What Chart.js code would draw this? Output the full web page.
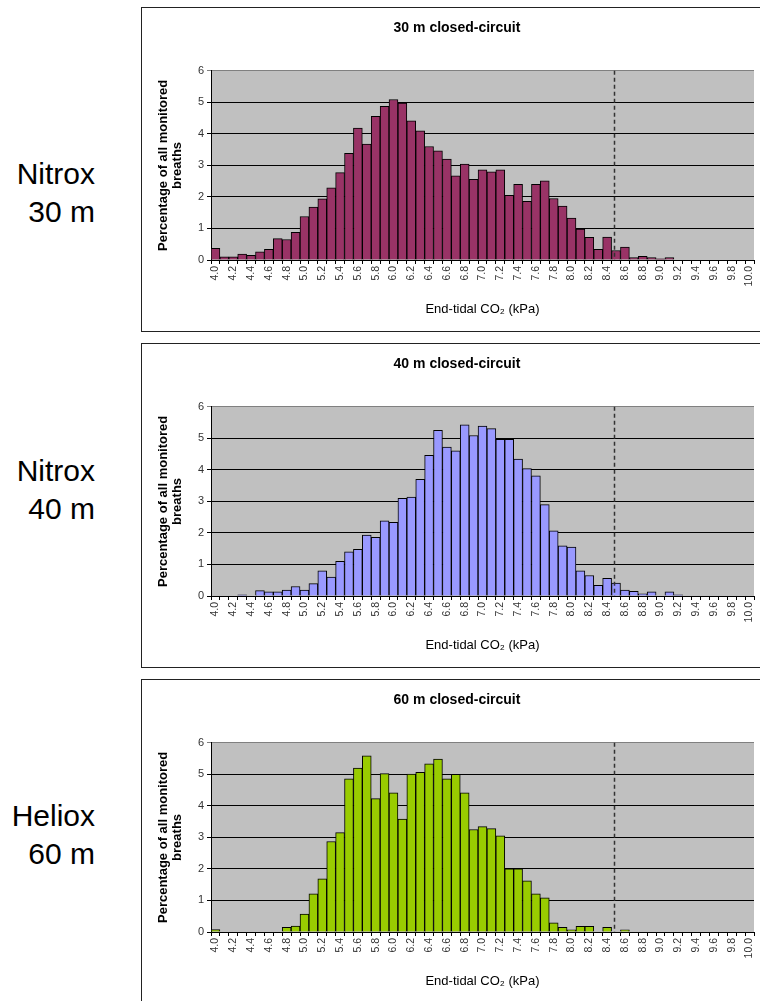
<!DOCTYPE html>
<html>
<head>
<meta charset="utf-8">
<script src="https://cdn.jsdelivr.net/npm/chart.js@4.4.1/dist/chart.umd.min.js"></script>
<style>
    html, body { margin: 0; padding: 0; background: #fff; }
    body { width: 760px; height: 1001px; overflow: hidden; position: relative; }
    .panel { position: absolute; left: 141px; width: 630px; height: 323px; border: 1px solid #222; background: #fff; }
    .panel canvas { display: block; }
    .side-label { position: absolute; left: 0; width: 95px; text-align: right; font-family: "Liberation Sans", Arial, sans-serif; font-size: 30px; line-height: 38px; color: #000; }
</style>
</head>
<body>
<div class="side-label" style="top:155px">Nitrox<br>30 m</div>
<div class="side-label" style="top:452px">Nitrox<br>40 m</div>
<div class="side-label" style="top:797px">Heliox<br>60 m</div>

<div class="panel" style="top:7px"><canvas id="chart30" width="630" height="323"></canvas></div>
<div class="panel" style="top:343px"><canvas id="chart40" width="630" height="323"></canvas></div>
<div class="panel" style="top:679px"><canvas id="chart60" width="630" height="323"></canvas></div>

<script>
// End-tidal CO2 bins (kPa)
const categories = [
    '4.0', '4.1', '4.2', '4.3', '4.4', '4.5', '4.6', '4.7', '4.8', '4.9',
    '5.0', '5.1', '5.2', '5.3', '5.4', '5.5', '5.6', '5.7', '5.8', '5.9',
    '6.0', '6.1', '6.2', '6.3', '6.4', '6.5', '6.6', '6.7', '6.8', '6.9',
    '7.0', '7.1', '7.2', '7.3', '7.4', '7.5', '7.6', '7.7', '7.8', '7.9',
    '8.0', '8.1', '8.2', '8.3', '8.4', '8.5', '8.6', '8.7', '8.8', '8.9',
    '9.0', '9.1', '9.2', '9.3', '9.4', '9.5', '9.6', '9.7', '9.8', '9.9',
    '10.0'
];

// Percentage of all monitored breaths per bin
const nitrox30 = [
    0.37, 0.10, 0.10, 0.19, 0.15, 0.26, 0.34, 0.68, 0.65, 0.88,
    1.38, 1.68, 1.94, 2.29, 2.77, 3.38, 4.18, 3.68, 4.56, 4.87,
    5.09, 4.98, 4.41, 4.10, 3.60, 3.46, 3.20, 2.67, 3.04, 2.56,
    2.86, 2.80, 2.86, 2.05, 2.40, 1.86, 2.40, 2.51, 1.95, 1.71,
    1.33, 0.98, 0.72, 0.34, 0.73, 0.30, 0.41, 0.08, 0.12, 0.08,
    0.04, 0.08, 0, 0, 0, 0, 0, 0, 0, 0,
    0
];
const nitrox40 = [
    0, 0, 0, 0.04, 0, 0.17, 0.13, 0.13, 0.19, 0.30,
    0.19, 0.39, 0.80, 0.60, 1.10, 1.40, 1.48, 1.93, 1.86, 2.38,
    2.34, 3.10, 3.14, 3.70, 4.46, 5.25, 4.72, 4.60, 5.43, 5.09,
    5.39, 5.31, 4.97, 4.97, 4.34, 4.04, 3.81, 2.90, 2.07, 1.59,
    1.55, 0.80, 0.65, 0.34, 0.56, 0.41, 0.19, 0.15, 0.07, 0.13,
    0, 0.13, 0.04, 0, 0, 0, 0, 0, 0, 0,
    0
];
const heliox60 = [
    0.08, 0, 0, 0, 0, 0, 0, 0, 0.15, 0.19,
    0.57, 1.21, 1.69, 2.87, 3.15, 4.86, 5.20, 5.59, 4.23, 5.02,
    4.41, 3.58, 5.01, 5.06, 5.33, 5.48, 4.86, 5.00, 4.41, 3.25,
    3.34, 3.28, 3.05, 2.00, 2.00, 1.62, 1.21, 1.08, 0.29, 0.15,
    0.07, 0.18, 0.18, 0, 0.15, 0, 0.07, 0, 0, 0,
    0, 0, 0, 0, 0, 0, 0, 0, 0, 0,
    0
];

const yTicks = [0, 1, 2, 3, 4, 5, 6];
const cutoffKpa = 8.48;

const FONT = '"Liberation Sans", Arial, sans-serif';

// grey plot area + dashed cutoff line
const plotDecor = {
    id: 'plotDecor',
    beforeDraw(chart) {
        const { ctx, chartArea } = chart;
        ctx.save();
        ctx.fillStyle = '#c0c0c0';
        ctx.fillRect(chartArea.left, chartArea.top, chartArea.right - chartArea.left, chartArea.bottom - chartArea.top);
        ctx.restore();
    },
    afterDatasetsDraw(chart) {
        const { ctx, chartArea, scales } = chart;
        const idx = (cutoffKpa - parseFloat(categories[0])) * 10;
        const x = Math.round(scales.x.getPixelForValue(idx)) + 0.5;
        ctx.save();
        ctx.strokeStyle = '#333';
        ctx.lineWidth = 1.5;
        ctx.setLineDash([4, 3]);
        ctx.beginPath();
        ctx.moveTo(x, chartArea.top);
        ctx.lineTo(x, chartArea.bottom);
        ctx.stroke();
        ctx.restore();
    }
};

function makeChart(id, title, values, color) {
    const ctx = document.getElementById(id).getContext('2d');
    return new Chart(ctx, {
        type: 'bar',
        data: {
            labels: categories,
            datasets: [{
                data: values,
                backgroundColor: color,
                borderColor: '#000',
                borderWidth: 1,
                barPercentage: 1,
                categoryPercentage: 1
            }]
        },
        options: {
            responsive: false,
            animation: false,
            devicePixelRatio: 1,
            layout: { padding: 0 },
            plugins: {
                legend: { display: false },
                tooltip: { enabled: false },
                title: {
                    display: true,
                    text: title,
                    color: '#000',
                    font: { family: FONT, size: 14, weight: 'bold', lineHeight: 1.2 },
                    padding: { top: 12, bottom: 34 }
                }
            },
            scales: {
                x: {
                    afterFit: (scale) => { scale.height = 71; },
                    grid: {
                        display: true,
                        drawOnChartArea: false,
                        drawTicks: true,
                        tickLength: 4,
                        color: '#000'
                    },
                    border: { display: true, color: '#000', width: 1 },
                    ticks: {
                        autoSkip: false,
                        minRotation: 90,
                        maxRotation: 90,
                        padding: 2,
                        color: '#333',
                        font: { family: FONT, size: 10.5 },
                        callback: (v, i) => (i % 2 === 0 ? categories[i] : '')
                    },
                    title: {
                        display: true,
                        text: 'End-tidal CO\u2082 (kPa)',
                        color: '#000',
                        font: { family: FONT, size: 13 },
                        padding: { top: 0, bottom: 14 }
                    }
                },
                y: {
                    min: yTicks[0],
                    max: yTicks[yTicks.length - 1],
                    afterFit: (scale) => { scale.width = 69; },
                    afterBuildTicks: (scale) => { scale.ticks = yTicks.map(v => ({ value: v })); },
                    grid: {
                        color: (c) => (c.tick && c.tick.value === 6 ? '#808080' : '#000'),
                        lineWidth: 1,
                        tickLength: 4
                    },
                    border: { display: true, color: '#000', width: 1 },
                    ticks: {
                        padding: 3,
                        color: '#333',
                        font: { family: FONT, size: 11 }
                    },
                    title: {
                        display: true,
                        text: ['Percentage of all monitored', 'breaths'],
                        color: '#000',
                        font: { family: FONT, size: 13, weight: 'bold', lineHeight: 1.08 },
                        padding: { top: 14, bottom: 0 }
                    }
                },
                // empty right-hand strip so the title stays centred on the whole panel
                yRight: {
                    position: 'right',
                    afterFit: (scale) => { scale.width = 18; },
                    grid: { display: false },
                    border: { display: false },
                    ticks: { display: false }
                }
            }
        },
        plugins: [plotDecor]
    });
}

makeChart('chart30', '30 m closed-circuit', nitrox30, '#993366');
makeChart('chart40', '40 m closed-circuit', nitrox40, '#9999ff');
makeChart('chart60', '60 m closed-circuit', heliox60, '#99cc00');
</script>
</body>
</html>
